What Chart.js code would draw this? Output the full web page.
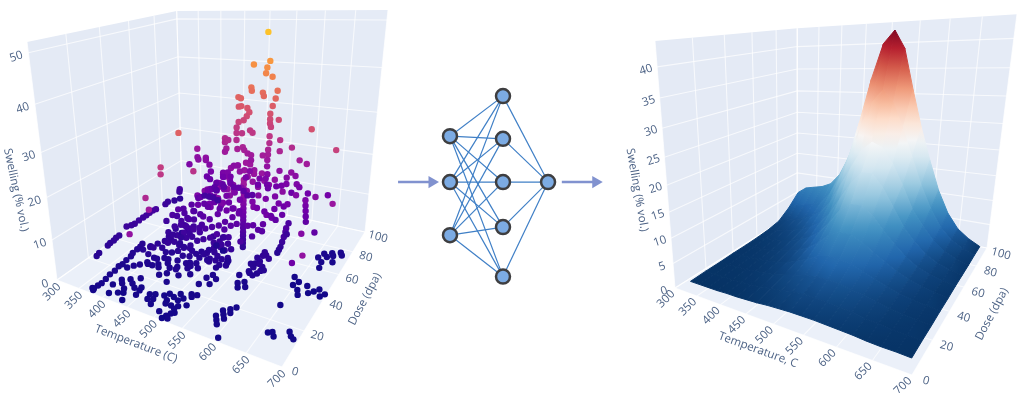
<!DOCTYPE html>
<html>
<head>
<meta charset="utf-8">
<title>Swelling</title>
<script src="https://cdn.jsdelivr.net/npm/chart.js@4"></script>
<style>
html,body{margin:0;padding:0;background:#fff;width:1024px;height:393px;overflow:hidden}
canvas{position:absolute}
</style>
</head>
<body>
<canvas id="scatterChart" width="1024" height="393" style="left:0;top:0"></canvas>
<canvas id="surfaceChart" width="1024" height="393" style="left:0;top:0"></canvas>
<canvas id="netChart" width="220" height="230" style="left:390px;top:70px"></canvas>
<script>
// axis ticks
const tempTicks = [300, 350, 400, 450, 500, 550, 600, 650, 700]
const doseTicks = [0, 20, 40, 60, 80, 100]
const swellTicksLeft = [0, 10, 20, 30, 40, 50]
const swellTicksRight = [0, 5, 10, 15, 20, 25, 30, 35, 40]

// left panel measurements: [temperature, dose, swelling], high swelling
const scatterHigh = [
[532,80,48.6],[507,80,41.3],[537,80,42.3],[532,80,40.8],[530,80,39.5],[542,80,38.8],[503,80,36],[504,80,35.2],
[478,80,33.4],[483,80,33.2],[525,80,35],[527,80,34.2],[552,80,35.7],[549,80,33.9],[544,80,32.1],[540,80,30.2],
[540,80,28.9],[540,80,27.9],[542,80,27.1],[556,80,29],[479,80,31.1],[484,80,31.3],[496,80,31],[500,80,30],
[495,80,29],[479,80,27.3],[489,80,27.9],[475,80,25.9],[475,80,24.5],[486,80,24.6],[502,80,25.6],[507,80,25.1],
[451,80,22.7],[451,80,21.7],[458,80,22.4],[475,80,22.7],[454,80,20.1],[451,80,19.2],[477,80,20.4],[488,80,21.1],
[491,80,20.4],[498,80,19.7],[505,80,19.4],[505,80,18.1],[540,80,24.8],[540,80,23.1],[538,80,21.4],[538,80,20.2],
[528,80,19.8],[537,80,18.8],[537,80,17.2],[560,80,24.2],[560,80,21.5],[582,80,22.8],[597,80,20],[610,80,19.4],
[561,80,16.6],[583,80,16.7],[591,80,16],[538,80,15.2],[523,80,13.7],[535,80,14],[520,80,12],[538,80,12.5],
[575,80,15.2],[556,80,12.5],[566,80,12.9],[575,80,13.6],[594,80,14],[599,80,13.4],[585,80,11.6],[615,80,12.2],
[650,80,12.7],[540,80,11.6],[390,80,18.8],[390,80,16.5],[392,80,15.9],[409,80,16.7],[409,80,16.1],[371,80,14.1],
[417,80,15],[484,27,33],[494,33,24],[420,80,13.2],[411,80,11.6],[418,80,11],[432,80,10.3],[428,80,9],[446,80,10.3],
[449,80,9.6],[432,80,8.3],[447,80,13.5],[457,80,13.8],[463,80,12.8],[447,80,12.3],[470,80,15.9],[478,80,16.1],
[495,80,13.3],[503,80,15.2],[463,80,11.1],[470,80,10.1],[480,80,10.2],[491,80,9.6],[499,80,8.6],[509,80,9],
[405,80,6],[415,80,6],[425,80,6],[435,80,5.5],[346,80,6.3],[345,80,5.5],[346,80,3.5],[677,63,27],[632,67,30],
[460,23,26],[465,21,25],[464,11,22],[463,13,19],[465,0,17],[698,15,17],[672,24,12],[668,35,15],[662,55,10],[690,52,18],
[650,63,16],[630,66,14],[615,65,15],[596,62,16]
]

// dense middle of the cloud
const scatterMid = [
[392,50,5.4],[406,50,7.4],[419,50,9.3],[425,50,6.4],[432,50,5.5],[441,50,7.4],[451,50,9.8],[461,50,11.7],[471,50,9],
[484,50,12.6],[494,50,14.6],[510,50,13.6],[523,50,15.7],[530,50,17.1],[412,50,3.9],[425,50,3.2],[438,50,4.5],[451,50,5.8],
[468,50,6.8],[484,50,8.7],[500,50,10.5],[517,50,11.9],[530,50,12.8],[566,50,14.2],[589,50,13],[598,50,12.6],[582,50,8.9],
[566,50,9.8],[491,50,4.5],[510,50,4.9],[497,50,2.4],[510,50,1.5],[539,41,2.5],
[548,50,20],[548,50,19],[548,50,18],[548,50,17],[548,50,16],[548,50,15.2],[548,50,14.3],[548,50,13.3],[548,50,12.4],
[548,50,11.4],[548,50,10.5],[548,50,9.5],[548,50,8.6],[548,50,7.6],[548,50,6.7],[548,50,5.7],[548,50,4.8],[548,50,3.8],
[460,50,14],[470,52,15],[480,50,16],[490,52,16],[500,50,17],[510,54,16],[520,52,18],[475,55,13],[505,48,15],[515,46,14],[495,46,13],
[445,44,5.5],[450,47,6],[440,48,6],[455,42,5],[447,52,7],
[608,60,8],[607,60,7],[606,59,6],[605,58,5],[604,57,4],[603,56,3.5],[602,55,3],
[632,65,13],[634,64,12],[636,63,11],[638,62,10],[590,62,13],[596,64,12],[600,60,11],[586,60,12],[604,63,13],[592,58,10],
[600,68,7],[602,65,5],
[428,58,9],[433,62,10],[438,56,8],[443,60,11],[449,64,12],[455,58,10],[458,53,8.5],[463,60,12],[467,56,10],[472,62,13],
[476,58,11],[481,63,14],[486,57,12],[489,61,14],[493,55,10.5],[498,59,13],[503,63,15],[507,57,12],[512,60,14],[516,56,11],
[521,62,15],[526,58,13],[531,55,11],[535,60,15],[439,44,4],[444,41,3.5],[452,46,5],[457,39,3.5],[462,44,5],[468,40,4],
[473,46,6],[477,42,5],[482,47,7],[487,43,5.5],[493,48,7.5],[498,44,6],[504,49,8],[509,45,7],[514,50,9],[519,47,8],
[524,52,10],[529,48,9],[534,53,11],[538,49,9.5],[468,48,6.5],[458,47,6],[412,44,4.5],[418,47,5.5],[424,43,4.5],[429,48,6],
[433,52,7],[422,54,7.5],[415,56,8],[408,53,6.5],
[555,55,14],[560,58,15],[565,54,13],[570,60,14],[575,56,12],[580,52,10],[585,57,11],[560,48,10],[570,47,8],[575,50,9],
[555,44,7],[552,62,16],[558,65,17],[565,66,16],[572,68,17],[580,64,14],[548,68,18],[542,62,17],[537,66,18],[530,70,18],
[525,66,17],[520,71,19],[515,68,18],[510,72,19],[502,70,17],[494,72,18],[486,68,15],[480,72,17],[472,70,15],[464,72,15],
[456,70,13],[450,66,12],[470,66,14],[445,70,11]
]

// low swelling, dark points near the floor
const scatterLow = [
[382,0,1],[382,3,1.2],[383,5,1.2],[382,8,1.3],[381,11,1.5],[382,14,1.6],[381,17,1.8],[383,19,1.8],[382,22,2],[383,25,2.2],
[381,27,2.4],[382,30,2.6],[383,32,2.8],[382,34,3],[377,1,1],[380,1,1],
[336,16,3],[335,18,3.2],[335,24,3.5],[334,26,3.6],[336,28,3.8],[335,30,4],[336,32,4.1],[342,42,5],[343,45,5.2],[344,48,5.3],
[346,50,5.5],[348,52,5.8],[350,54,6],[352,56,6],[340,40,5],[335,38,5],[345,69,5],[347,66,5],[345,75,4],
[396,18,1.8],[404,20,2],[411,22,2],[418,25,2],[424,28,2.5],[431,24,2],
[395,30,3],[400,34,3],[405,32,3.5],[410,36,3.5],[415,31,4],[420,38,4],[425,34,3.5],[428,40,4],[432,36,4.5],[436,42,5],[440,38,4.5],[412,28,3],[418,42,4],
[456,20,1.8],[461,26,2],[466,22,2],[471,28,2],[476,25,2.5],[481,31,2.5],[486,23,2],[491,28,2.5],[496,33,2.5],[476,18,1.5],[464,31,2.5],[501,26,2],[506,30,2.5],
[490,11,1],[495,13,1],[500,9,1],[505,12,1],[510,15,1],[515,11,1],[520,13,1],[525,17,1],[530,15,1.2],[535,17,1.2],[503,7,1],[513,7,1],[523,8,1],[533,10,1],
[520,1,1],[523,3,1],[525,0,1],[527,4,1],[521,6,1],[505,2,1],[515,0,.6],
[448,9,1],[450,6,1],[446,11,1],[468,9,1],[472,6,1],[476,10,1],[480,7,1],[484,4,1],
[408,2,.8],[420,4,.8],[428,5,.8],[438,1,.8],
[400,7,1],[406,11,1.2],[413,9,1.2],[418,13,1.2],[423,7,1],[428,11,1.2],[433,15,1.5],[438,9,1.2],
[505,38,4],[510,42,4.5],[515,36,3.5],[520,44,5],[525,38,4],[530,42,4.5],[535,35,3],[540,40,3.5],[528,46,5],[518,34,3.5],[545,36,3],[512,46,5],
[478,35,3],[484,38,3],[490,40,3.2],[495,36,3],[500,42,3.5],[486,32,2.5],[492,30,2.5],
[529,27,2],[534,30,2],[539,25,1.5],[544,28,2],[524,23,1.5],
[583,10,1],[586,14,1],[588,8,1],[591,12,1],[594,16,1],[596,10,1],[598,14,1],[600,18,1],[593,6,1],[606,1,.5],
[578,42,3],[582,46,3.5],[586,40,3],[590,44,3.5],[594,48,4],[598,42,3],[602,46,4],[588,50,4],[596,38,2.5],[604,40,3],[582,38,2.5],[592,36,2.5],
[576,31,1.5],[580,29,1.2],[584,33,1.5],[571,35,2],[591,30,1.5],
[660,64,1.5],[665,68,1.5],[668,62,1.2],[672,66,1.5],[676,70,1.5],[680,68,1.5],[684,64,1.2],[688,72,1.5],[670,58,1],[692,70,1.5],
[650,42,.8],[655,45,.8],[660,40,.7],[665,37,.7],[670,44,.8],[677,40,.7],[683,42,.7],[689,44,.8],[695,40,.7],[645,47,1],[700,42,.8],
[660,12,.5],[665,13,.5],[670,11,.5],[685,16,.5],[690,14,.5],[695,13,.5],[652,28,.7],
[515,40,4],[522,42,5],[518,47,6],[526,36,3.5],[533,38,3.5],[538,44,4.5],[543,38,3],[510,36,3],[505,44,5],[500,38,3.5],[525,48,6],[531,34,2.5],
[445,34,3],[450,38,4],[455,35,3.5],[462,37,4],[467,34,3],[472,38,4],[448,30,2.5],[440,30,2.5],[435,33,3],[430,28,2.5],[422,24,2],[438,26,2],[444,24,2],[452,28,2.2],[476,38,3.5],
[584,43,3],[593,42,3.5],[600,39,3],[590,47,4],[585,37,2.5]
]

// right panel surface
const surfaceT = [310,330,350,370,390,410,430,450,470,490,510,530,550,570,590,610,630,650,670,690]
const surfaceD = [97,87,77,67,57,47,37,27,17,7]
const surfaceS = [
[5.5,7,7.5,8,9,11.5,16,24,33,40,42.5,39,31,23.5,17,11,6.5,3.5,1.8,.6],
[3,4,4.5,5,6,8.5,12.5,18,24,29,31.5,29,24,18.5,13,8.5,5,2.8,1.5,.6],
[1.2,1.8,2.4,3,4,5.5,8,12,16,20,22,21,18,14,9.5,6.5,4,2.2,1.2,.5],
[.7,1,1.4,1.9,2.6,3.6,5,7.5,11,14.5,17,17,14.5,11,7.5,5,3,1.8,1,.5],
[.5,.7,.9,1.2,1.7,2.4,3.4,5,7.5,10.5,12,12,10.5,8,5.8,3.8,2.4,1.5,.9,.5],
[.4,.5,.6,.8,1.2,1.7,2.4,3.4,5,7,8,8,7,5.5,4.2,3,2,1.3,.8,.4],
[.4,.4,.5,.6,.8,1.1,1.6,2.4,3.4,4.5,5,5,4.6,3.8,3,2.2,1.5,1,.7,.4],
[.3,.3,.4,.4,.6,.8,1.1,1.6,2.2,2.7,3,3.1,2.9,2.5,2.1,1.6,1.1,.8,.5,.3],
[.3,.3,.3,.3,.4,.5,.7,1,1.3,1.7,1.9,1.9,1.8,1.6,1.4,1,.8,.5,.4,.3],
[.2,.2,.2,.2,.3,.3,.4,.5,.7,.8,.9,.9,.9,.8,.7,.6,.4,.3,.3,.2]
]

// network layers
const layerX = [0, 1, 1.85]
const layerNodes = [[1.02, 0, -1.18], [1.91, .96, 0, -1, -2.1], [0]]
const arrowIn = [-.98, -.34]
const arrowOut = [2.11, 2.75]

const plasma = ['#0d0887','#46039f','#7201a8','#9c179e','#bd3786','#d8576b','#ed7953','#fb9f3a','#fdca26','#f0f921']
const rdbu = ['#053061','#2166ac','#4393c3','#92c5de','#d1e5f0','#f7f7f7','#fddbc7','#f4a582','#d6604d','#b2182b','#67001f']

function hexRgb(h){
    return [parseInt(h.slice(1,3),16), parseInt(h.slice(3,5),16), parseInt(h.slice(5,7),16)]
}
function ramp(colors, t){
    t = Math.max(0, Math.min(1, t)) * (colors.length-1)
    let i = Math.min(Math.floor(t), colors.length-2), f = t-i
    let a = hexRgb(colors[i]), b = hexRgb(colors[i+1])
    return 'rgb('+Math.round(a[0]+(b[0]-a[0])*f)+','+Math.round(a[1]+(b[1]-a[1])*f)+','+Math.round(a[2]+(b[2]-a[2])*f)+')'
}

// perspective box: floor corners A(300,0) B(700,0) C(700,100) D(300,100), tops of A and C
function makeProjector(A, B, C, D, At, Ct, zMax){
    let dx1=B[0]-C[0], dx2=D[0]-C[0], sx=A[0]-B[0]+C[0]-D[0]
    let dy1=B[1]-C[1], dy2=D[1]-C[1], sy=A[1]-B[1]+C[1]-D[1]
    let det=dx1*dy2-dx2*dy1
    let g=(sx*dy2-dx2*sy)/det, h=(dx1*sy-sx*dy1)/det
    let a=B[0]-A[0]+g*B[0], b=D[0]-A[0]+h*D[0], c=A[0]
    let d=B[1]-A[1]+g*B[1], e=D[1]-A[1]+h*D[1], f=A[1]
    let m=(Ct[0]*(g+h+1)-a-b-At[0])/(At[0]-Ct[0])
    let kx=At[0]*(1+m)-c, ky=At[1]*(1+m)-f
    return function(t, dose, s){
        let u=(t-300)/400, v=dose/100, w=s/zMax
        let q=g*u+h*v+1+m*w
        return {x:(a*u+b*v+c+kx*w)/q, y:(d*u+e*v+f+ky*w)/q}
    }
}

function polygon(points, color){
    return {data:points, fill:'shape', backgroundColor:color, borderColor:color, borderWidth:0, pointRadius:0, clip:false}
}
function gridLine(points){
    return {data:points, fill:false, borderColor:'rgba(255,255,255,.7)', borderWidth:1.1, pointRadius:0, clip:false}
}

// walls, floor and the white grid
function boxDatasets(p, zMax, zTicks){
    let out = [
        polygon([p(300,0,0),p(300,100,0),p(300,100,zMax),p(300,0,zMax),p(300,0,0)], '#e4eaf5'),
        polygon([p(300,100,0),p(700,100,0),p(700,100,zMax),p(300,100,zMax),p(300,100,0)], '#e5ebf6'),
        polygon([p(300,0,0),p(700,0,0),p(700,100,0),p(300,100,0),p(300,0,0)], '#ebf0f9')
    ]
    tempTicks.forEach(t => out.push(gridLine([p(t,0,0),p(t,100,0),p(t,100,zMax)])))
    doseTicks.forEach(d => out.push(gridLine([p(300,d,zMax),p(300,d,0),p(700,d,0)])))
    zTicks.forEach(s => out.push(gridLine([p(300,0,s),p(300,100,s),p(700,100,s)])))
    return out
}

function boxLabels(p, zTicks, off, titles){
    let out = []
    tempTicks.forEach(t => { let q=p(t,0,0); out.push({text:String(t), x:q.x+off.t[0], y:q.y+off.t[1], rot:-45}) })
    doseTicks.forEach(d => { let q=p(700,d,0); out.push({text:String(d), x:q.x+off.d[0], y:q.y+off.d[1], rot:15}) })
    zTicks.forEach(s => { let q=p(300,0,s); out.push({text:String(s), x:q.x+off.s[0], y:q.y+off.s[1], rot:-18}) })
    return out.concat(titles)
}

const labelPlugin = {
    id:'labels',
    afterDraw(chart, args, opts){
        let ctx = chart.ctx
        ctx.save()
        ctx.textAlign='center'
        ctx.textBaseline='middle'
        ctx.font='11.5px "Open Sans"'
        ctx.fillStyle='#4c6285'
        opts.items.forEach(l => {
            ctx.save()
            ctx.translate(l.x,l.y)
            ctx.rotate(l.rot*Math.PI/180)
            ctx.fillText(l.text,0,0)
            ctx.restore()
        })
        ctx.restore()
    }
}

function drawScene(id, datasets, labels){
    return new Chart(document.getElementById(id), {
        type:'line',
        data:{datasets:datasets.slice().reverse()},
        options:{
            responsive:false, animation:false, events:[],
            layout:{padding:0, autoPadding:false},
            elements:{line:{tension:0}},
            plugins:{legend:{display:false}, tooltip:{enabled:false}, labels:{items:labels}},
            scales:{
                x:{type:'linear', display:false, min:0, max:1024},
                y:{type:'linear', display:false, min:0, max:393, reverse:true}
            }
        },
        plugins:[labelPlugin]
    })
}

// left scene
const leftP = makeProjector([57,280],[282,367],[365,232],[182,192],[27,42],[388,20],52)
const allPoints = scatterLow.concat(scatterMid, scatterHigh)
let leftSets = boxDatasets(leftP, 52, swellTicksLeft)
leftSets.push({
    data: allPoints.map(r => leftP(r[0],r[1],r[2])),
    showLine:false, clip:false,
    pointRadius:3.2, pointBorderWidth:0,
    pointBackgroundColor: allPoints.map(r => ramp(plasma, r[2]/56))
})
drawScene('scatterChart', leftSets, boxLabels(leftP, swellTicksLeft, {t:[-5,12], d:[13,5], s:[-12,4]}, [
    {text:'Temperature (C)', x:136, y:344, rot:21},
    {text:'Dose (dpa)', x:365, y:299, rot:-62},
    {text:'Swelling (% vol.)', x:16, y:190, rot:78}
]))

// right scene
const rightP = makeProjector([675,288],[912,375],[987,248],[797,211],[655,41],[1017,29],44)
let rightSets = boxDatasets(rightP, 44, swellTicksRight)
const surfCtx = document.getElementById('surfaceChart').getContext('2d')
function quadFill(cells){
    let lo = cells.reduce((m,c) => c.s<m.s?c:m), hi = cells.reduce((m,c) => c.s>m.s?c:m)
    if(hi.s-lo.s < .01) return ramp(rdbu, lo.s/44)
    let grad = surfCtx.createLinearGradient(lo.q.x, lo.q.y, hi.q.x, hi.q.y)
    for(let i=0;i<=4;i++) grad.addColorStop(i/4, ramp(rdbu, (lo.s+(hi.s-lo.s)*i/4)/44))
    return grad
}
for(let r=0;r<surfaceD.length-1;r++){
    for(let c=0;c<surfaceT.length-1;c++){
        let cells = [[r,c],[r,c+1],[r+1,c+1],[r+1,c]].map(k => {
            let s = surfaceS[k[0]][k[1]]
            return {s:s, q:rightP(surfaceT[k[1]], surfaceD[k[0]], s)}
        })
        let fillStyle = quadFill(cells)
        let pts = cells.map(k => k.q)
        pts.push(cells[0].q)
        rightSets.push({data:pts, fill:'shape', backgroundColor:fillStyle, borderColor:fillStyle, borderWidth:1, pointRadius:0, clip:false})
    }
}
drawScene('surfaceChart', rightSets, boxLabels(rightP, swellTicksRight, {t:[-9,11], d:[14,6], s:[-11,3]}, [
    {text:'Temperature, C', x:758, y:350, rot:20},
    {text:'Dose (dpa)', x:992, y:314, rot:-62},
    {text:'Swelling (% vol.)', x:637, y:190, rot:80}
]))

// network in the middle
let netSets = []
layerNodes[0].forEach(a => layerNodes[1].forEach(b => netSets.push({data:[{x:layerX[0],y:a},{x:layerX[1],y:b}], borderColor:'#3f7fc6', borderWidth:1.2, pointRadius:0})))
layerNodes[1].forEach(b => netSets.push({data:[{x:layerX[1],y:b},{x:layerX[2],y:0}], borderColor:'#3f7fc6', borderWidth:1.2, pointRadius:0}))
layerNodes.forEach((ys,i) => netSets.push({
    data:ys.map(y => ({x:layerX[i],y:y})), showLine:false,
    pointRadius:7, pointBorderWidth:2.5, pointBackgroundColor:'#7cabe3', pointBorderColor:'#3e3e40'
}))
;[arrowIn, arrowOut].forEach(a => netSets.push({
    data:[{x:a[0],y:0},{x:a[1],y:0}], borderColor:'#8192cf', borderWidth:2.5,
    pointStyle:'triangle', pointRotation:90, pointRadius:[0,7], pointBackgroundColor:'#8192cf', pointBorderWidth:0
}))
new Chart(document.getElementById('netChart'), {
    type:'line',
    data:{datasets:netSets.reverse()},
    options:{
        responsive:false, animation:false, events:[],
        layout:{padding:0, autoPadding:false},
        plugins:{legend:{display:false}, tooltip:{enabled:false}},
        scales:{
            x:{type:'linear', display:false, min:-1.132, max:3.019},
            y:{type:'linear', display:false, min:-2.62, max:2.49}
        }
    }
})
</script>
</body>
</html>
